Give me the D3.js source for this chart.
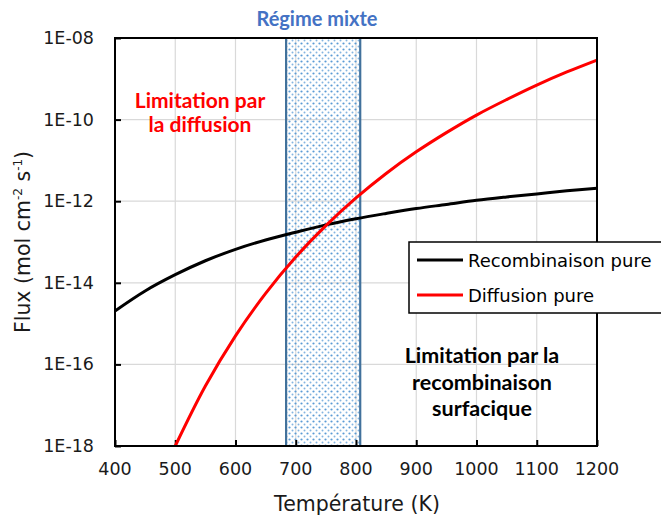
<!DOCTYPE html>
<html>
<head>
<meta charset="utf-8">
<script src="https://cdn.jsdelivr.net/npm/d3@7/dist/d3.min.js"></script>
<style>
  html, body { margin: 0; padding: 0; background: #fff; }
  svg { display: block; font-family: "DejaVu Sans", sans-serif; }
  .note { font-family: Lato, "Open Sans", sans-serif; font-weight: bold; }
</style>
</head>
<body>
<svg id="chart" width="661" height="522"></svg>
<script>
// Temperatures (K) and fluxes (mol cm-2 s-1)
const tempRecomb = [400, 450, 500, 550, 600, 650, 700, 750, 800, 850, 900, 950, 1000, 1050, 1100, 1150, 1200];
const fluxRecomb = [2.04e-15, 6.31e-15, 1.58e-14, 3.47e-14, 6.61e-14, 1.12e-13, 1.74e-13, 2.63e-13, 3.72e-13, 5.01e-13, 6.61e-13, 8.32e-13, 1.05e-12, 1.27e-12, 1.51e-12, 1.80e-12, 2.09e-12];

const tempDiff = [500, 550, 600, 650, 700, 750, 800, 850, 900, 950, 1000, 1050, 1100, 1150, 1200];
const fluxDiff = [1.0e-18, 2.95e-17, 5.01e-16, 5.50e-15, 4.27e-14, 2.51e-13, 1.20e-12, 4.79e-12, 1.62e-11, 4.79e-11, 1.29e-10, 3.09e-10, 7.0e-10, 1.47e-9, 2.88e-9];

// Mixed regime temperature window
const mixedRange = [684, 807];

const xTicks = [400, 500, 600, 700, 800, 900, 1000, 1100, 1200];
const yTicks = [1e-18, 1e-16, 1e-14, 1e-12, 1e-10, 1e-8];
const yTickLabels = ["1E-18", "1E-16", "1E-14", "1E-12", "1E-10", "1E-08"];

const seriesNames = ["Recombinaison pure", "Diffusion pure"];

const svg = d3.select("#chart");
const plot = { left: 115, right: 597, top: 38, bottom: 446 };

const x = d3.scaleLinear().domain([400, 1200]).range([plot.left, plot.right]);
const y = d3.scaleLog().domain([1e-18, 1e-8]).range([plot.bottom, plot.top]);

// Dot pattern for the mixed regime band
const defs = svg.append("defs");
const pat = defs.append("pattern")
  .attr("id", "dots").attr("patternUnits", "userSpaceOnUse")
  .attr("width", 6).attr("height", 6);
pat.append("circle").attr("cx", 1.5).attr("cy", 1.5).attr("r", 1.1).attr("fill", "#5B9BD5");
pat.append("circle").attr("cx", 4.5).attr("cy", 4.5).attr("r", 1.0).attr("fill", "#5B9BD5").attr("opacity", 0.75);

// Gridlines
svg.append("g").selectAll("line").data(xTicks).join("line")
  .attr("x1", d => x(d)).attr("x2", d => x(d))
  .attr("y1", plot.top).attr("y2", plot.bottom)
  .attr("stroke", "#D9D9D9").attr("stroke-width", 1.2);
svg.append("g").selectAll("line").data(yTicks).join("line")
  .attr("x1", plot.left).attr("x2", plot.right)
  .attr("y1", d => y(d)).attr("y2", d => y(d))
  .attr("stroke", "#D9D9D9").attr("stroke-width", 1.2);

// Mixed regime band
svg.append("rect")
  .attr("x", x(mixedRange[0])).attr("y", plot.top)
  .attr("width", x(mixedRange[1]) - x(mixedRange[0]))
  .attr("height", plot.bottom - plot.top)
  .attr("fill", "url(#dots)");
svg.append("g").selectAll("line").data(mixedRange).join("line")
  .attr("x1", d => x(d)).attr("x2", d => x(d))
  .attr("y1", plot.top).attr("y2", plot.bottom)
  .attr("stroke", "#41719C").attr("stroke-width", 2.2);

// Axes with inward ticks
const xAxis = d3.axisBottom(x).tickValues(xTicks).tickSize(-6).tickFormat("");
const gx = svg.append("g").attr("transform", `translate(0,${plot.bottom})`).call(xAxis);
gx.select(".domain").remove();
gx.selectAll("line").attr("stroke", "#000").attr("stroke-width", 2);

const yAxis = d3.axisLeft(y).tickValues(yTicks).tickSize(-6).tickFormat("");
const gy = svg.append("g").attr("transform", `translate(${plot.left},0)`).call(yAxis);
gy.select(".domain").remove();
gy.selectAll("line").attr("stroke", "#000").attr("stroke-width", 2);

// Tick labels
svg.append("g").selectAll("text").data(xTicks).join("text")
  .attr("x", d => x(d)).attr("y", 475)
  .attr("text-anchor", "middle").attr("font-size", 17.5).attr("fill", "#1a1a1a")
  .text(d => d);
svg.append("g").selectAll("text").data(yTicks).join("text")
  .attr("x", 94).attr("y", d => y(d) + 6)
  .attr("text-anchor", "end").attr("font-size", 17.5).attr("fill", "#1a1a1a")
  .text((d, i) => yTickLabels[i]);

// Curves
const line = (xs, ys) => d3.line()
  .x((d, i) => x(xs[i])).y(d => y(d))
  .curve(d3.curveCatmullRom.alpha(0.5))(ys);

svg.append("path").attr("d", line(tempRecomb, fluxRecomb))
  .attr("fill", "none").attr("stroke", "#000").attr("stroke-width", 3);
svg.append("path").attr("d", line(tempDiff, fluxDiff))
  .attr("fill", "none").attr("stroke", "#FF0000").attr("stroke-width", 3);

// Plot frame
svg.append("rect")
  .attr("x", plot.left).attr("y", plot.top)
  .attr("width", plot.right - plot.left).attr("height", plot.bottom - plot.top)
  .attr("fill", "none").attr("stroke", "#000").attr("stroke-width", 2);

// Axis titles
svg.append("text").attr("x", 357).attr("y", 511)
  .attr("text-anchor", "middle").attr("font-size", 20.5).attr("fill", "#1a1a1a")
  .text("Température (K)");

const yt = svg.append("text")
  .attr("transform", "translate(30,242) rotate(-90)")
  .attr("text-anchor", "middle").attr("font-size", 20.5).attr("fill", "#1a1a1a");
yt.append("tspan").text("Flux (mol cm");
yt.append("tspan").attr("dy", -8).attr("font-size", 12).text("-2");
yt.append("tspan").attr("dy", 8).text(" s");
yt.append("tspan").attr("dy", -8).attr("font-size", 12).text("-1");
yt.append("tspan").attr("dy", 8).text(")");

// Region annotations
svg.append("text").attr("class", "note").attr("x", 317).attr("y", 26)
  .attr("text-anchor", "middle").attr("font-size", 20)
  .attr("fill", "#4472C4").text("Régime mixte");

const diffNote = svg.append("text").attr("class", "note").attr("text-anchor", "middle")
  .attr("font-size", 21).attr("fill", "#FF0000");
diffNote.append("tspan").attr("x", 200).attr("y", 108).text("Limitation par");
diffNote.append("tspan").attr("x", 200).attr("y", 132).text("la diffusion");

const recNote = svg.append("text").attr("class", "note").attr("text-anchor", "middle")
  .attr("font-size", 21.5).attr("fill", "#000");
recNote.append("tspan").attr("x", 482).attr("y", 363).text("Limitation par la");
recNote.append("tspan").attr("x", 482).attr("y", 390).text("recombinaison");
recNote.append("tspan").attr("x", 482).attr("y", 416).text("surfacique");

// Legend
const legend = svg.append("g");
legend.append("rect").attr("x", 409).attr("y", 242).attr("width", 270).attr("height", 71)
  .attr("fill", "#fff").attr("stroke", "#000").attr("stroke-width", 1.5);
const legColors = ["#000", "#FF0000"];
seriesNames.forEach((name, i) => {
  const ly = 260 + i * 35;
  legend.append("line").attr("x1", 417).attr("x2", 463).attr("y1", ly).attr("y2", ly)
    .attr("stroke", legColors[i]).attr("stroke-width", 3);
  legend.append("text").attr("x", 468).attr("y", ly + 7)
    .attr("font-size", 18).attr("fill", "#000").text(name);
});
</script>
</body>
</html>
